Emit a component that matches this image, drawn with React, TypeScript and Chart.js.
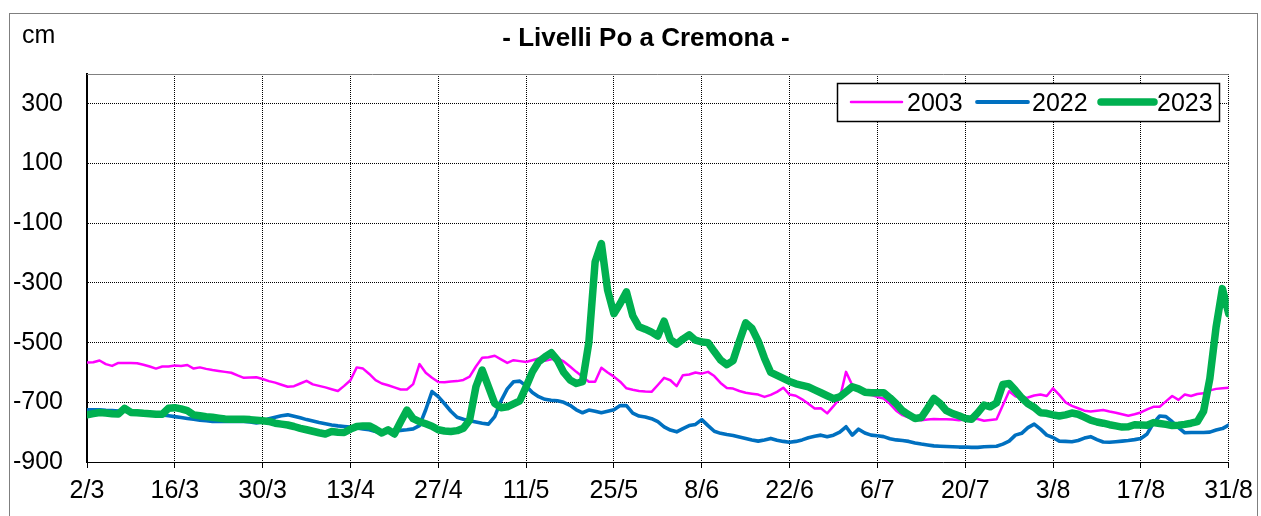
import React, { useEffect, useRef } from 'react';
import { Chart, registerables } from 'chart.js';

Chart.register(...registerables);

const tickDays = [0, 14, 28, 42, 56, 70, 84, 98, 112, 126, 140, 154, 168, 182];
const tickLabels = ['2/3', '16/3', '30/3', '13/4', '27/4', '11/5', '25/5', '8/6', '22/6', '6/7', '20/7', '3/8', '17/8', '31/8'];
const yTicks = [-900, -700, -500, -300, -100, 100, 300];
const seriesNames = ['2003', '2022', '2023'];
const seriesColors = ['#FF00FF', '#0070C0', '#00B050'];

const level2003 = [
  -567, -566, -560, -572, -578, -568, -568, -568, -569, -574,
  -580, -587, -580, -580, -577, -578, -575, -587, -583, -588,
  -592, -595, -598, -601, -610, -618, -617, -616, -622, -629,
  -634, -641, -648, -646, -637, -628, -640, -645, -650, -656,
  -662, -645, -626, -583, -587, -605, -626, -637, -643, -650,
  -657, -657, -639, -572, -601, -618, -632, -633, -630, -629,
  -625, -614, -580, -551, -549, -544, -556, -568, -559, -562,
  -565, -559, -553, -561, -556, -553, -563, -580, -598, -614,
  -631, -631, -584, -600, -614, -631, -653, -658, -662, -664,
  -665, -642, -618, -626, -646, -609, -607, -600, -604, -598,
  -612, -635, -652, -654, -662, -668, -671, -674, -682, -675,
  -665, -651, -674, -678, -690, -705, -721, -720, -737, -713,
  -687, -598, -643, -655, -667, -675, -682, -687, -705, -728,
  -743, -751, -757, -760, -758, -756, -757, -757, -758, -760,
  -758, -756, -756, -762, -759, -757, -710, -663, -680, -687,
  -684, -677, -674, -679, -653, -675, -700, -712, -720, -728,
  -731, -728, -726, -731, -735, -740, -745, -740, -734, -724,
  -715, -715, -697, -679, -692, -674, -679, -672, -670, -660,
  -655, -653, -651,
];

const level2022 = [
  -725, -725, -725, -727, -728, -729, -730, -732, -735, -737,
  -739, -741, -742, -745, -748, -751, -754, -757, -760, -762,
  -764, -764, -764, -764, -764, -764, -766, -769, -765, -755,
  -750, -745, -742, -747, -752, -758, -763, -768, -772, -776,
  -779, -781, -783, -786, -789, -792, -798, -803, -800, -796,
  -794, -792, -789, -778, -725, -664, -681, -705, -730, -750,
  -757, -762, -766, -770, -773, -748, -695, -655, -631, -629,
  -645, -667, -681, -690, -693, -695, -700, -710, -725, -735,
  -726, -730, -735, -730, -725, -711, -711, -736, -746, -749,
  -755, -765, -782, -793, -799, -788, -778, -774, -758, -778,
  -797, -804, -808, -811, -816, -821, -826, -830, -826, -821,
  -827, -831, -834, -831, -826, -819, -814, -810, -815, -810,
  -800, -782, -810, -790, -803, -810, -812, -815, -822, -826,
  -828, -831, -836, -840, -843, -846, -847, -848, -849, -850,
  -850, -851, -851, -849, -848, -847, -840, -830, -810, -804,
  -785, -773, -790, -810, -818, -830, -831, -832, -828, -820,
  -815, -825, -833, -834, -832, -830, -828, -825, -821, -806,
  -770, -746, -748, -765, -785, -802, -801, -801, -801, -800,
  -793, -788, -776,
];

const level2023 = [
  -742, -738, -734, -736, -738, -739, -720, -734, -735, -737,
  -738, -740, -740, -720, -718, -722, -728, -742, -745, -748,
  -750, -753, -756, -757, -757, -757, -758, -760, -762, -764,
  -770, -773, -776, -781, -787, -792, -797, -802, -806, -798,
  -800, -801, -790, -781, -779, -779, -790, -803, -792, -806,
  -765, -726, -755, -765, -772, -780, -792, -796, -798, -795,
  -787, -759, -648, -592, -648, -704, -718, -715, -705, -695,
  -648, -598, -564, -548, -534, -559, -600, -625, -637, -631,
  -500, -230, -168, -325, -403, -369, -330, -410, -447, -455,
  -465, -478, -428, -490, -505, -488, -474, -492, -498, -500,
  -530, -558, -574, -560, -495, -434, -452, -495, -552, -600,
  -610, -620, -630, -638, -643, -648, -658, -668, -678, -688,
  -682, -665, -648, -655, -666, -668, -668, -668, -685, -705,
  -728, -742, -754, -751, -720, -687, -704, -728, -738, -745,
  -754, -757, -735, -709, -715, -702, -640, -637, -660, -685,
  -705, -717, -735, -737, -742, -746, -742, -736, -740, -750,
  -760, -766, -770, -775, -779, -783, -782, -775, -776, -777,
  -768, -771, -774, -778, -777, -774, -770, -765, -730, -620,
  -447, -319, -403,
];

const FONT = '"Liberation Sans", Arial, Helvetica, sans-serif';

export default function App() {
  const ref = useRef<HTMLCanvasElement | null>(null);

  useEffect(() => {
    if (!ref.current) return;
    const toPts = (arr: number[]) => arr.map((v, i) => ({ x: i, y: v }));
    const widths = [2.5, 3.6, 7.5];
    const legendWidths = [2.5, 3.8, 7.5];

    const deco = {
      id: 'deco',
      beforeDraw(chart: any) {
        const ctx = chart.ctx;
        ctx.save();
        ctx.fillStyle = '#ffffff';
        ctx.fillRect(0, 0, chart.width, chart.height);
        ctx.strokeStyle = '#7f7f7f';
        ctx.lineWidth = 1;
        ctx.strokeRect(9.5, 13.5, 1248, 600);
        ctx.restore();
      },
      beforeDatasetsDraw(chart: any) {
        const ctx = chart.ctx;
        const a = chart.chartArea;
        ctx.save();
        ctx.strokeStyle = '#808080';
        ctx.lineWidth = 1;
        ctx.beginPath();
        ctx.moveTo(a.left, Math.round(a.top) + 0.5);
        ctx.lineTo(a.right, Math.round(a.top) + 0.5);
        ctx.stroke();
        ctx.restore();
      },
      afterDraw(chart: any) {
        const ctx = chart.ctx;
        ctx.save();
        ctx.fillStyle = '#000';
        ctx.textBaseline = 'alphabetic';
        ctx.font = `bold 26px ${FONT}`;
        ctx.textAlign = 'center';
        ctx.fillText('- Livelli Po a Cremona -', 646, 46);
        ctx.font = `25px ${FONT}`;
        ctx.textAlign = 'left';
        ctx.fillText('cm', 22, 43);

        // legend
        ctx.fillStyle = '#fff';
        ctx.fillRect(837, 83, 383, 39);
        ctx.strokeStyle = '#000';
        ctx.lineWidth = 1.5;
        ctx.strokeRect(837.5, 83.5, 382, 38);
        const lineX = [[851, 902], [977, 1028], [1101, 1154]];
        const textX = [907, 1032, 1157];
        for (let k = 0; k < 3; k++) {
          ctx.strokeStyle = seriesColors[k];
          ctx.lineWidth = legendWidths[k];
          ctx.lineCap = 'round';
          ctx.beginPath();
          ctx.moveTo(lineX[k][0], 102);
          ctx.lineTo(lineX[k][1], 102);
          ctx.stroke();
          ctx.fillStyle = '#000';
          ctx.font = `25px ${FONT}`;
          ctx.textAlign = 'left';
          ctx.fillText(seriesNames[k], textX[k], 111);
        }
        ctx.restore();
      },
    };

    const series = [level2003, level2022, level2023];
    const orders = [1, 2, 0];

    const chart = new Chart(ref.current, {
      type: 'line',
      data: {
        datasets: series.map((s, k) => ({
          label: seriesNames[k],
          data: toPts(s),
          borderColor: seriesColors[k],
          backgroundColor: seriesColors[k],
          borderWidth: widths[k],
          pointRadius: 0,
          tension: 0,
          fill: false,
          borderJoinStyle: 'round' as const,
          borderCapStyle: 'round' as const,
          order: orders[k],
        })),
      },
      options: {
        responsive: false,
        animation: false,
        events: [],
        layout: { padding: { top: 74, right: 28, left: 0, bottom: 0 } },
        plugins: {
          legend: { display: false },
          title: { display: false },
          tooltip: { enabled: false },
        },
        scales: {
          x: {
            type: 'linear',
            min: 0,
            max: 182,
            afterBuildTicks: (s: any) => {
              s.ticks = tickDays.map((v) => ({ value: v }));
            },
            afterFit: (s: any) => {
              s.height = 54;
            },
            ticks: {
              autoSkip: false,
              maxRotation: 0,
              minRotation: 0,
              padding: 8,
              color: '#000',
              font: { family: FONT, size: 25 },
              callback: (_v: any, idx: number) => tickLabels[idx],
            },
            grid: {
              color: '#000',
              lineWidth: 1,
              drawTicks: true,
              tickLength: 6,
              tickColor: '#000',
              tickBorderDash: [],
              borderDash: [1, 1],
            } as any,
            border: { display: true, color: '#000', width: 1, dash: [1, 1] },
          },
          y: {
            type: 'linear',
            min: -900,
            max: 400,
            afterBuildTicks: (s: any) => {
              s.ticks = yTicks.map((v) => ({ value: v }));
            },
            afterFit: (s: any) => {
              s.width = 87;
            },
            ticks: {
              padding: 24,
              color: '#000',
              font: { family: FONT, size: 25 },
              callback: (v: any) => String(v),
            },
            grid: {
              color: '#000',
              lineWidth: 1,
              drawTicks: false,
              borderDash: [1, 1],
            } as any,
            border: { display: true, color: '#000', width: 2, dash: [1, 1] },
          },
        },
      },
      plugins: [deco],
    } as any);

    return () => chart.destroy();
  }, []);

  return (
    <div style={{ position: 'fixed', left: 0, top: 0, width: 1261, height: 516, background: '#fff' }}>
      <canvas ref={ref} width={1261} height={516} style={{ display: 'block' }} />
    </div>
  );
}
